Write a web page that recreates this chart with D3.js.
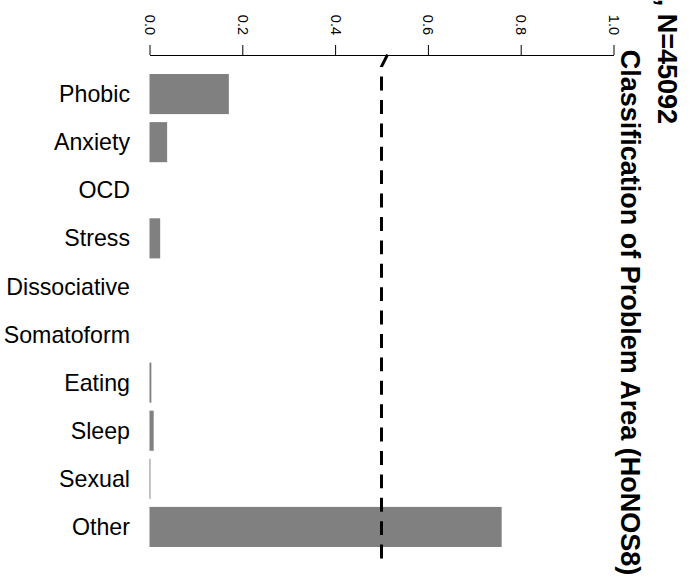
<!DOCTYPE html>
<html>
<head>
<meta charset="utf-8">
<script src="https://cdn.jsdelivr.net/npm/d3@7"></script>
<style>
  html, body { margin: 0; padding: 0; background: #fff; }
  svg { display: block; font-family: "Liberation Sans", Arial, Helvetica, sans-serif; }
</style>
</head>
<body>
<svg id="chart" width="689" height="584"></svg>
<script>
// Problem area categories (HoNOS8) and the share of patients in each
const categories = ["Phobic", "Anxiety", "OCD", "Stress", "Dissociative",
                    "Somatoform", "Eating", "Sleep", "Sexual", "Other"];
const proportions = [0.171, 0.038, 0, 0.023, 0, 0, 0.004, 0.009, 0.002, 0.759];

// Value axis ticks
const tickValues = [0, 0.2, 0.4, 0.6, 0.8, 1.0];
const tickLabels = ["0.0", "0.2", "0.4", "0.6", "0.8", "1.0"];

// Reference line: value and row position (in category rows) of each vertex
const refValues = [0.513, 0.5, 0.5];
const refRows = [-0.82, -0.57, 9.72];

// Title lines
const titleLines = ["Proportion of patients, N=45092",
                    "Classification of Problem Area (HoNOS8)"];

const svg = d3.select("#chart");

const x = d3.scaleLinear().domain([0, 1]).range([149.5, 613.5]);
const y = d3.scaleBand().domain(categories).range([66, 555])
  .paddingInner(1 / 6).paddingOuter(1 / 6);
const bw = y.bandwidth();
const row = d3.scaleLinear().domain([0, categories.length - 1])
  .range([y(categories[0]) + bw / 2, y(categories[categories.length - 1]) + bw / 2]);

// Bars
svg.append("g")
  .selectAll("rect")
  .data(categories.map((c, i) => ({ c, v: proportions[i] })))
  .join("rect")
  .attr("x", x(0))
  .attr("y", d => y(d.c))
  .attr("width", d => x(d.v) - x(0))
  .attr("height", bw)
  .attr("fill", "#808080");

// Category labels
svg.append("g")
  .selectAll("text")
  .data(categories)
  .join("text")
  .attr("x", 130)
  .attr("y", d => y(d) + bw / 2)
  .attr("dy", "0.35em")
  .attr("text-anchor", "end")
  .attr("font-size", 23.2)
  .attr("fill", "#000")
  .text(d => d);

// Top value axis with rotated tick labels
const axis = d3.axisTop(x)
  .tickValues(tickValues)
  .tickSize(10)
  .tickSizeOuter(0)
  .tickFormat((d, i) => tickLabels[i]);

const gAxis = svg.append("g")
  .attr("transform", "translate(0,55)")
  .call(axis);
gAxis.select(".domain").attr("stroke", "#000").attr("stroke-width", 1);
gAxis.selectAll(".tick line").attr("stroke", "#000").attr("stroke-width", 1);
gAxis.selectAll(".tick text")
  .attr("transform", "rotate(90)")
  .attr("x", -20)
  .attr("y", 0)
  .attr("dy", "0.35em")
  .attr("text-anchor", "end")
  .attr("font-size", 14.5)
  .attr("font-family", "'Liberation Sans', Arial, Helvetica, sans-serif")
  .attr("fill", "#000");

// Dashed reference line
const refLine = d3.line()
  .x(d => x(d[0]))
  .y(d => row(d[1]));
svg.append("path")
  .datum(refValues.map((v, i) => [v, refRows[i]]))
  .attr("d", refLine)
  .attr("fill", "none")
  .attr("stroke", "#000")
  .attr("stroke-width", 3)
  .attr("stroke-dasharray", "13.9,9.5");

// Title, written sideways along the right edge
const titleG = svg.append("g")
  .attr("font-weight", "bold")
  .attr("font-size", 27)
  .attr("fill", "#000");
titleG.append("text")
  .attr("transform", "translate(658,124) rotate(90)")
  .attr("text-anchor", "end")
  .text(titleLines[0]);
titleG.append("text")
  .attr("transform", "translate(620.5,312.5) rotate(90)")
  .attr("text-anchor", "middle")
  .text(titleLines[1]);
</script>
</body>
</html>
